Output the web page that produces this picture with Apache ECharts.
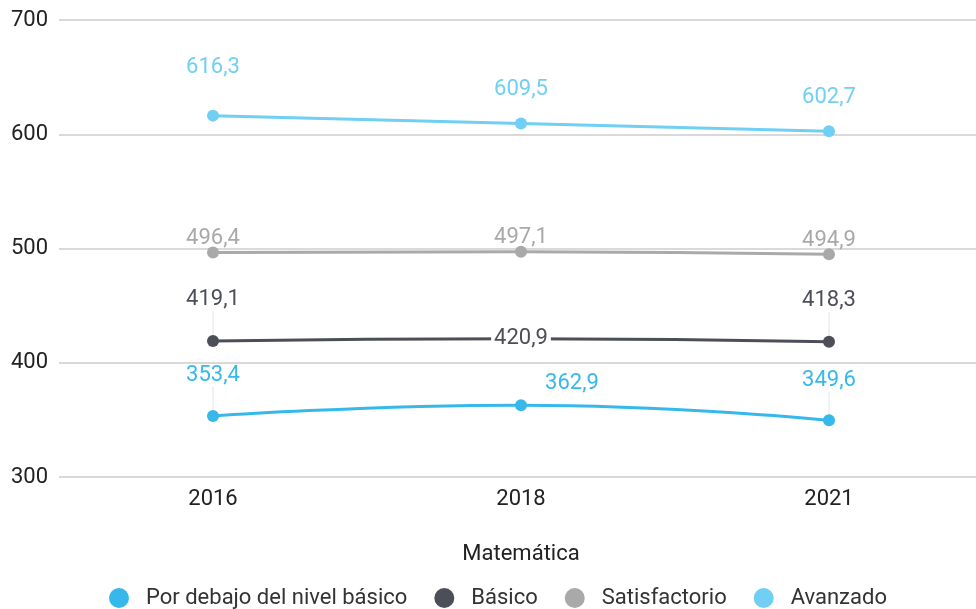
<!DOCTYPE html>
<html><head><meta charset="utf-8">
<script src="https://cdn.jsdelivr.net/npm/echarts@6/dist/echarts.min.js"></script>
<style>html,body{margin:0;padding:0;background:#fff}#c{width:976px;height:609px}</style>
</head><body><div id="c"></div>
<script>
const categories = ['2016', '2018', '2021'];
const seriesNames = ['Por debajo del nivel básico', 'Básico', 'Satisfactorio', 'Avanzado'];
const porDebajo = [353.4, 362.9, 349.6];
const basico = [419.1, 420.9, 418.3];
const satisfactorio = [496.4, 497.1, 494.9];
const avanzado = [616.3, 609.5, 602.7];
const axisName = 'Matemática';

const colors = ['#36b9ea', '#4c4f58', '#a9a9a9', '#70cff2'];
const fmt = p => String(p.value).replace('.', ',');
const font = 'Roboto';

// label shifts per series / point (layout only)
const shifts = [
  [[0, -40], [51, -22], [0, -40]],
  [[0, -41], [0, 0], [0, -41]],
  [[0, -14], [0, -14], [0, -14]],
  [[0, -48], [0, -34], [0, -34]]
];
const leader = [[true, false, true], [true, false, true], [false, false, false], [false, false, false]];

function mk(name, values, idx) {
  return {
    name: name, type: 'line', smooth: true,
    data: values.map((v, i) => ({ value: v, labelLine: { show: leader[idx][i] } })),
    symbol: 'circle', symbolSize: 12,
    lineStyle: { width: 3, color: colors[idx] },
    itemStyle: { color: colors[idx] },
    z: idx === 1 ? 3 : 2,
    label: {
      show: true, position: 'inside', formatter: fmt,
      color: colors[idx], fontFamily: font, fontSize: 22,
      backgroundColor: idx === 1 ? '#ffffff' : 'transparent',
      padding: [0, 3]
    },
    labelLine: { show: true, lineStyle: { color: '#e3e3e3', width: 1 } },
    labelLayout: function (p) {
      const s = shifts[idx][p.dataIndex];
      return { dx: s[0], dy: s[1] };
    }
  };
}

const chart = echarts.init(document.getElementById('c'));
chart.setOption({
  animation: false,
  color: colors,
  grid: { left: 59, width: 924, top: 20, bottom: 132, outerBoundsMode: 'none', containLabel: false },
  legend: {
    bottom: -5, left: 104, icon: 'circle', itemWidth: 20, itemHeight: 20, itemGap: 27,
    textStyle: { fontFamily: font, fontSize: 22, color: '#333', padding: [0, 0, 0, 12] },
    data: seriesNames
  },
  xAxis: {
    type: 'category', data: categories, boundaryGap: true,
    axisLine: { show: false }, axisTick: { show: false },
    axisLabel: { fontFamily: font, fontSize: 22, color: '#222', margin: 11 },
    name: axisName, nameLocation: 'middle', nameGap: 66,
    nameTextStyle: { fontFamily: font, fontSize: 22, color: '#222' }
  },
  yAxis: {
    type: 'value', min: 300, max: 700, interval: 100,
    axisLine: { show: false }, axisTick: { show: false },
    axisLabel: { fontFamily: font, fontSize: 22, color: '#222', margin: 11 },
    splitLine: { lineStyle: { color: '#cccccc', width: 1.5 } }
  },
  series: [
    mk(seriesNames[0], porDebajo, 0),
    mk(seriesNames[1], basico, 1),
    mk(seriesNames[2], satisfactorio, 2),
    mk(seriesNames[3], avanzado, 3)
  ]
});
</script></body></html>
